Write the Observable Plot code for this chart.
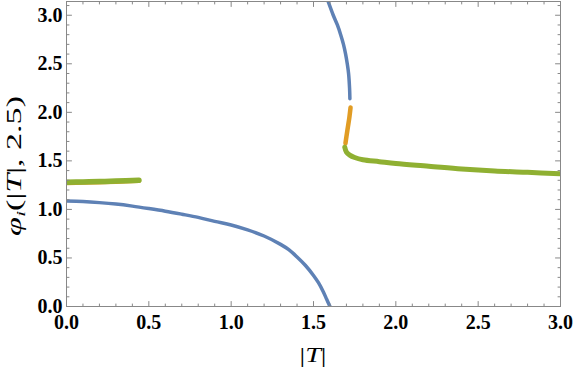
<!DOCTYPE html>
<html><head><meta charset="utf-8">
<script src="https://cdn.jsdelivr.net/npm/d3@7"></script>
<script src="https://cdn.jsdelivr.net/npm/@observablehq/plot@0.6"></script>
<style>body{margin:0;background:#fff}</style>
</head><body><div id="chart"></div>
<script>
// Lower blue branch
const blueLowX = [0, 0.1, 0.2, 0.3, 0.4, 0.5, 0.6, 0.7, 0.8, 0.9, 1.0, 1.1, 1.2, 1.3, 1.35, 1.4, 1.45, 1.5, 1.53, 1.56, 1.58, 1.6];
const blueLowY = [1.086, 1.081, 1.07, 1.055, 1.034, 1.009, 0.982, 0.951, 0.918, 0.877, 0.84, 0.789, 0.726, 0.64, 0.585, 0.51, 0.425, 0.32, 0.245, 0.15, 0.075, 0.0];
// Upper blue branch
const blueUpX = [1.589, 1.62, 1.645, 1.665, 1.682, 1.695, 1.705, 1.713, 1.719, 1.721];
const blueUpY = [3.1416, 3.0, 2.9, 2.8, 2.7, 2.6, 2.5, 2.4, 2.25, 2.14];
// Orange branches
const orangeRX = [1.725, 1.718, 1.709, 1.7, 1.694];
const orangeRY = [2.05, 1.95, 1.85, 1.75, 1.68];
const orangeLX = [0, 0.1, 0.2, 0.3, 0.44];
const orangeLY = [1.272, 1.276, 1.281, 1.286, 1.294];
// Green branches
const greenRX = [1.69, 1.70, 1.72, 1.75, 1.8, 1.9, 2.0, 2.2, 2.4, 2.6, 2.8, 3.0];
const greenRY = [1.64, 1.59, 1.56, 1.535, 1.512, 1.492, 1.472, 1.445, 1.417, 1.396, 1.382, 1.368];
const greenLX = [0, 0.1, 0.2, 0.3, 0.44];
const greenLY = [1.28, 1.283, 1.287, 1.292, 1.30];

const xTicks = [0, 0.5, 1, 1.5, 2, 2.5, 3];
const yTicks = [0, 0.5, 1, 1.5, 2, 2.5, 3];
const xMinor = [0.1,0.2,0.3,0.4,0.6,0.7,0.8,0.9,1.1,1.2,1.3,1.4,1.6,1.7,1.8,1.9,2.1,2.2,2.3,2.4,2.6,2.7,2.8,2.9];
const yMinor = [0.1,0.2,0.3,0.4,0.6,0.7,0.8,0.9,1.1,1.2,1.3,1.4,1.6,1.7,1.8,1.9,2.1,2.2,2.3,2.4,2.6,2.7,2.8,2.9,3.1];
const xLabel = ["|", "T", "|"];
const yLabel = ["φ", "i", "(|", "T", "|, 2.5)"];

const zip = (xs, ys) => xs.map((x, i) => ({x, y: ys[i]}));
const BLUE = "#5E81B5", ORANGE = "#E19C24", GREEN = "#8FB032", FRAME = "#888";
const tickShape = {draw(ctx, l) { ctx.moveTo(0, 0); ctx.lineTo(0, -l); }};
const tickOpts = {shape: tickShape, anchor: "start", stroke: FRAME, strokeWidth: 1};

const chart = Plot.plot({
  width: 576, height: 368,
  marginLeft: 66, marginRight: 16, marginTop: 1, marginBottom: 62,
  x: {domain: [0, 3], axis: null},
  y: {domain: [0, Math.PI], axis: null},
  style: {background: "#fff"},
  marks: [
    Plot.line(zip(blueLowX, blueLowY), {x: "x", y: "y", stroke: BLUE, strokeWidth: 3.5, curve: "catmull-rom", clip: "frame"}),
    Plot.line(zip(blueUpX, blueUpY), {x: "x", y: "y", stroke: BLUE, strokeWidth: 3.5, curve: "catmull-rom", clip: "frame"}),
    Plot.line(zip(orangeLX, orangeLY), {x: "x", y: "y", stroke: ORANGE, strokeWidth: 4.5, curve: "catmull-rom", clip: "frame"}),
    Plot.line(zip(orangeRX, orangeRY), {x: "x", y: "y", stroke: ORANGE, strokeWidth: 4.5, curve: "catmull-rom", clip: "frame"}),
    Plot.line(zip(greenLX, greenLY), {x: "x", y: "y", stroke: GREEN, strokeWidth: 5.5, curve: "catmull-rom", clip: "frame"}),
    Plot.line(zip(greenRX, greenRY), {x: "x", y: "y", stroke: GREEN, strokeWidth: 5, curve: "catmull-rom", clip: "frame"}),
    Plot.frame({stroke: FRAME, strokeWidth: 1}),
    Plot.vector(xTicks, {x: d => d, frameAnchor: "bottom", rotate: 0, length: 5, ...tickOpts}),
    Plot.vector(xMinor, {x: d => d, frameAnchor: "bottom", rotate: 0, length: 2.5, ...tickOpts}),
    Plot.vector(xTicks, {x: d => d, frameAnchor: "top", rotate: 180, length: 5, ...tickOpts}),
    Plot.vector(xMinor, {x: d => d, frameAnchor: "top", rotate: 180, length: 2.5, ...tickOpts}),
    Plot.vector(yTicks, {y: d => d, frameAnchor: "left", rotate: 90, length: 5, ...tickOpts}),
    Plot.vector(yMinor, {y: d => d, frameAnchor: "left", rotate: 90, length: 2.5, ...tickOpts}),
    Plot.vector(yTicks, {y: d => d, frameAnchor: "right", rotate: -90, length: 5, ...tickOpts}),
    Plot.vector(yMinor, {y: d => d, frameAnchor: "right", rotate: -90, length: 2.5, ...tickOpts}),
    Plot.text(xTicks, {x: d => d, frameAnchor: "bottom", dy: 16, text: d => d.toFixed(1), lineAnchor: "middle",
      fontFamily: "Liberation Serif", fontWeight: "bold", fontSize: 20, fill: "#000", ariaLabel: "xticklabel"}),
    Plot.text(yTicks, {y: d => d, frameAnchor: "left", dx: -4, textAnchor: "end", text: d => d.toFixed(1), lineAnchor: "middle",
      fontFamily: "Liberation Serif", fontWeight: "bold", fontSize: 20, fill: "#000", ariaLabel: "yticklabel"})
  ]
});
document.getElementById("chart").append(chart);

const svg = d3.select(chart);
svg.selectAll("g[aria-label='xticklabel'] text, g[aria-label='yticklabel'] text")
  .attr("textLength", 29).attr("lengthAdjust", "spacingAndGlyphs");

// x-axis label |T|
const xl = svg.append("text")
  .attr("x", 313).attr("y", 362)
  .attr("text-anchor", "middle")
  .attr("font-family", "Liberation Serif").attr("font-size", 21).attr("fill", "#000")
  .attr("textLength", 27).attr("lengthAdjust", "spacingAndGlyphs");
xl.append("tspan").text(xLabel[0]);
xl.append("tspan").attr("font-style", "italic").text(xLabel[1]);
xl.append("tspan").text(xLabel[2]);

// y-axis label φ_i(|T|, 2.5)
const yl = svg.append("text")
  .attr("transform", "translate(21,166) rotate(-90)")
  .attr("text-anchor", "middle")
  .attr("font-family", "Liberation Serif").attr("font-size", 20).attr("fill", "#000")
  .attr("textLength", 140).attr("lengthAdjust", "spacingAndGlyphs");
yl.append("tspan").attr("font-style", "italic").text(yLabel[0]);
yl.append("tspan").attr("font-style", "italic").attr("font-size", 13).attr("dy", 4).text(yLabel[1]);
yl.append("tspan").attr("dy", -4).text(yLabel[2]);
yl.append("tspan").attr("font-style", "italic").text(yLabel[3]);
yl.append("tspan").text(yLabel[4]);
</script>
</body></html>
